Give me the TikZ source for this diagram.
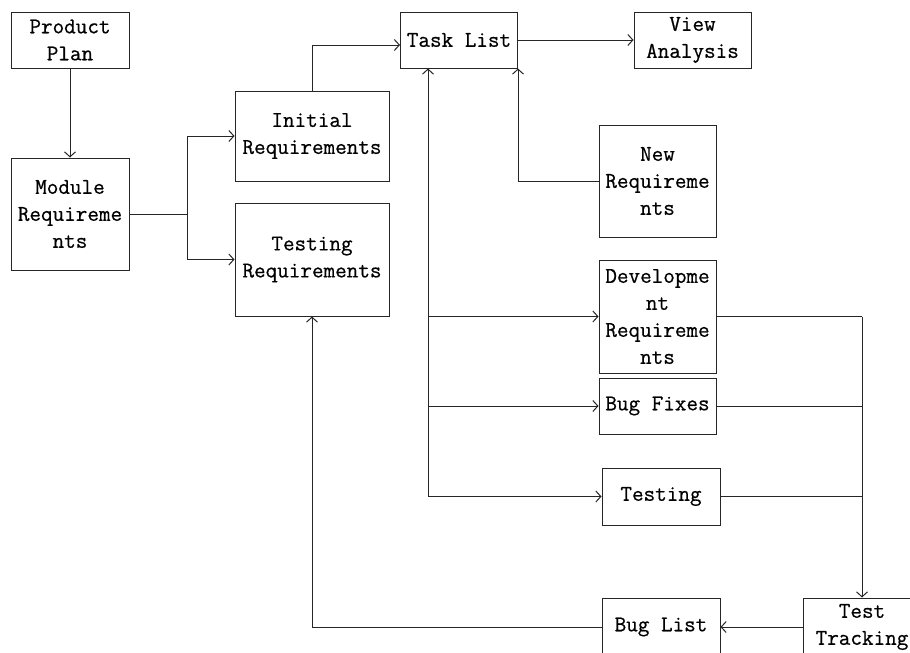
\documentclass[tikz,border=0pt]{standalone}
\usepackage{fontspec}
\setmonofont[FakeBold=0.6]{Latin Modern Mono}
\usetikzlibrary{arrows.meta}
\begin{document}
\begin{tikzpicture}[x=1pt,y=-1pt,
  box/.style={draw=black!85, line width=1pt, align=center, inner sep=0pt,
    font=\ttfamily\bfseries\fontsize{22.5}{27}\selectfont},
  arr/.style={draw=black!85, line width=1pt, -{Straight Barb[length=5pt,width=11pt]}},
  ln/.style={draw=black!85, line width=1pt}]
\useasboundingbox[fill=white] (0,0) rectangle (910,653);
\node[box, minimum width=118pt, minimum height=56pt] (pp) at (70,40) {Product\\Plan};
\node[box, minimum width=118pt, minimum height=112pt] (mr) at (70,214) {Module\\Requireme\\nts};
\node[box, minimum width=154pt, minimum height=90pt] (ir) at (312,136) {Initial\\Requirements};
\node[box, minimum width=154pt, minimum height=113pt] (tr) at (312,259.5) {Testing\\Requirements};
\node[box, minimum width=117pt, minimum height=56pt] (tl) at (459,40) {Task List};
\node[box, minimum width=117pt, minimum height=56pt] (va) at (692.5,40) {View\\Analysis};
\node[box, minimum width=117pt, minimum height=112pt] (nr) at (657.5,181) {New\\Requireme\\nts};
\node[box, minimum width=117pt, minimum height=113pt] (dr) at (657.5,316.5) {Developme\\nt\\Requireme\\nts};
\node[box, minimum width=117pt, minimum height=56pt] (bf) at (657.5,406) {Bug Fixes};
\node[box, minimum width=118pt, minimum height=57pt] (te) at (661,496.5) {Testing};
\node[box, minimum width=118pt, minimum height=58pt] (bl) at (661,627) {Bug List};
\node[box, minimum width=118pt, minimum height=58pt] (tt) at (862,627) {Test\\Tracking};
\coordinate (fork) at (187,214);
\coordinate (bus) at (428,496.5);
\coordinate (rbus) at (862,316.5);
% connectors
\draw[arr] (pp.south) -- (mr.north);
\draw[ln] (mr.east) -- (fork);
\draw[arr] (fork) |- (ir.west);
\draw[arr] (fork) |- (tr.west);
\draw[arr] (ir.north) |- ([yshift=-5pt]tl.west);
\draw[arr] (tl.east) -- (va.west);
\draw[arr] (bus) -- (bus |- tl.south);
\draw[arr] (bus |- dr.west) -- (dr.west);
\draw[arr] (bus |- bf.west) -- (bf.west);
\draw[arr] (bus) -- (te.west);
\draw[arr] (nr.west) -| (tl.south east);
\draw[ln] (dr.east) -- (rbus);
\draw[ln] (bf.east) -- (rbus |- bf.east);
\draw[ln] (te.east) -- (rbus |- te.east);
\draw[arr] (rbus) -- (tt.north);
\draw[arr] (tt.west) -- (bl.east);
\draw[arr] (bl.west) -| (tr.south);
\end{tikzpicture}
\end{document}
